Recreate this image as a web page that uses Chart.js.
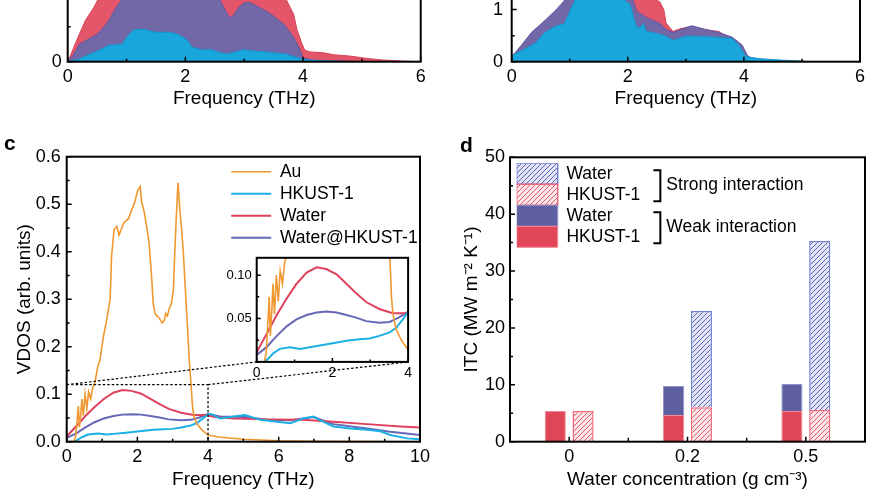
<!DOCTYPE html>
<html>
<head>
<meta charset="utf-8">
<title>VDOS and ITC</title>
<script src="https://cdn.jsdelivr.net/npm/chart.js@4.4.1/dist/chart.umd.min.js"></script>
<style>
  html, body { margin: 0; padding: 0; background: #fff; }
  body { width: 870px; height: 492px; overflow: hidden; position: relative; font-family: "Liberation Sans", Arial, sans-serif; }
  canvas { position: absolute; }
  .tag { position: absolute; font-weight: bold; font-size: 21px; line-height: 1; }
</style>
</head>
<body>
<canvas id="chartA" width="435" height="180" style="left:0;top:-60px"></canvas>
<canvas id="chartB" width="435" height="182" style="left:435px;top:-62px"></canvas>
<canvas id="chartC" width="440" height="362" style="left:0;top:130px"></canvas>
<canvas id="inset" width="200" height="140" style="left:215px;top:245px"></canvas>
<canvas id="chartD" width="430" height="362" style="left:440px;top:130px"></canvas>
<div class="tag" style="left:4px;top:132px">c</div>
<div class="tag" style="left:460px;top:134px">d</div>
<script>
// ---- panel a (top left, lower part only), arb. units
const aFreqWater = [0, 0.03, 0.13, 0.3, 0.44, 0.55, 0.7, 1.0, 1.5, 2.0, 2.5, 3.0, 3.5, 3.6, 3.72, 3.78, 3.84, 3.9, 3.98, 4.03, 4.12, 4.35, 4.52, 4.8, 5.09, 5.37, 5.66, 6.0];
const aWater = [0, 0.05, 0.26, 0.59, 0.77, 0.95, 1.1, 1.2, 1.25, 1.3, 1.3, 1.25, 1.15, 1.0, 0.88, 0.78, 0.68, 0.45, 0.26, 0.165, 0.14, 0.127, 0.1, 0.08, 0.047, 0.023, 0.01, 0];
const aFreqMix = [0, 0.1, 0.2, 0.35, 0.5, 0.6, 0.7, 0.82, 0.93, 1.2, 2.0, 2.5, 2.59, 2.67, 2.75, 2.82, 2.9, 3.0, 3.08, 3.2, 3.38, 3.5, 3.67, 3.84, 3.95, 4.0, 4.2, 5.0];
const aMix = [0, 0.1, 0.25, 0.32, 0.39, 0.48, 0.59, 0.77, 0.9, 1.05, 1.1, 1.0, 0.88, 0.75, 0.63, 0.66, 0.77, 0.84, 0.85, 0.8, 0.72, 0.65, 0.54, 0.35, 0.17, 0.05, 0.02, 0];
const aFreqHk = [0, 0.2, 0.35, 0.52, 0.7, 0.93, 1.0, 1.12, 1.3, 1.5, 1.74, 1.88, 2.03, 2.11, 2.26, 2.45, 2.55, 2.7, 2.85, 2.99, 3.2, 3.38, 3.7, 3.9, 4.0, 4.5, 5.0];
const aHk = [0, 0.04, 0.1, 0.16, 0.235, 0.25, 0.35, 0.455, 0.465, 0.42, 0.42, 0.39, 0.31, 0.21, 0.17, 0.17, 0.14, 0.11, 0.14, 0.17, 0.15, 0.14, 0.11, 0.06, 0.03, 0.007, 0];

// ---- panel b (top right, lower part only)
const bFreqWater = [0, 0.17, 0.4, 0.74, 1.0, 1.5, 2.0, 2.3, 2.55, 2.62, 2.66, 2.78, 2.89, 3.06, 3.3, 3.57, 3.68, 3.91, 4.03, 4.15, 4.4, 5.0];
const bWater = [0.12, 0.26, 0.53, 0.9, 1.3, 1.5, 1.45, 1.3, 1.15, 1.0, 0.74, 0.58, 0.63, 0.67, 0.62, 0.58, 0.49, 0.35, 0.12, 0.05, 0.02, 0];
const bFreqMix = [0, 0.17, 0.34, 0.57, 0.74, 0.85, 1.0, 1.5, 2.0, 2.1, 2.15, 2.32, 2.55, 2.66, 2.78, 3.0, 3.1, 3.34, 3.57, 3.8, 3.97, 4.06, 4.15, 4.4, 5.0];
const bMix = [0.09, 0.32, 0.56, 0.79, 0.97, 1.1, 1.3, 1.5, 1.4, 1.15, 0.97, 0.85, 0.735, 0.62, 0.56, 0.65, 0.69, 0.62, 0.56, 0.47, 0.32, 0.12, 0.05, 0.02, 0];
const bFreqHk = [0, 0.17, 0.4, 0.57, 0.74, 0.91, 1.02, 1.1, 1.3, 1.6, 1.85, 2.04, 2.1, 2.15, 2.21, 2.27, 2.32, 2.44, 2.66, 2.78, 3.0, 3.23, 3.51, 3.8, 3.91, 4.03, 4.25, 4.65, 5.0, 5.1];
const bHk = [0.12, 0.21, 0.35, 0.56, 0.67, 0.735, 1.02, 1.2, 1.35, 1.4, 1.25, 1.1, 0.85, 0.67, 0.65, 0.735, 0.58, 0.56, 0.49, 0.41, 0.49, 0.49, 0.47, 0.44, 0.32, 0.1, 0.06, 0.03, 0.012, 0];

// ---- panel c: VDOS
const cFreqAu = [0, 0.2, 0.25, 0.3, 0.33, 0.36, 0.4, 0.43, 0.47, 0.52, 0.57, 0.62, 0.68, 0.74, 0.8, 0.88, 0.94, 1.04, 1.13, 1.23, 1.27, 1.34, 1.42, 1.48, 1.61, 1.75, 1.84, 1.93, 2.0, 2.08, 2.12, 2.19, 2.27, 2.33, 2.4, 2.45, 2.5, 2.55, 2.62, 2.7, 2.76, 2.8, 2.85, 2.9, 2.96, 3.02, 3.06, 3.1, 3.15, 3.2, 3.25, 3.3, 3.36, 3.42, 3.47, 3.52, 3.56, 3.6, 3.68, 3.8, 3.9, 4.0, 4.3, 5.0, 6.0, 7.0, 10.0];
const cAu = [0, 0, 0.01, 0.05, 0.075, 0.03, 0.06, 0.09, 0.055, 0.1, 0.07, 0.105, 0.09, 0.115, 0.125, 0.158, 0.172, 0.221, 0.256, 0.3, 0.39, 0.446, 0.453, 0.435, 0.46, 0.47, 0.488, 0.505, 0.527, 0.537, 0.505, 0.485, 0.45, 0.42, 0.35, 0.29, 0.27, 0.265, 0.26, 0.25, 0.255, 0.27, 0.265, 0.28, 0.29, 0.32, 0.4, 0.47, 0.545, 0.49, 0.45, 0.4, 0.32, 0.24, 0.17, 0.12, 0.075, 0.055, 0.038, 0.027, 0.02, 0.014, 0.01, 0.005, 0.002, 0.001, 0];
const cFreqHk = [0, 0.2, 0.26, 0.44, 0.61, 0.88, 1.14, 1.4, 1.67, 1.93, 2.19, 2.46, 2.72, 2.98, 3.24, 3.51, 3.68, 3.86, 4.0, 4.1, 4.34, 4.72, 5.05, 5.48, 5.95, 6.33, 6.7, 6.99, 7.18, 7.55, 8.03, 8.5, 8.88, 9.16, 9.63, 10];
const cHk = [0, 0, 0.002, 0.010, 0.015, 0.017, 0.015, 0.017, 0.019, 0.021, 0.023, 0.025, 0.026, 0.027, 0.030, 0.034, 0.039, 0.049, 0.058, 0.058, 0.049, 0.053, 0.056, 0.046, 0.042, 0.039, 0.049, 0.053, 0.045, 0.032, 0.028, 0.025, 0.022, 0.014, 0.007, 0.005];
const cFreqWater = [0, 0.26, 0.53, 0.79, 1.05, 1.32, 1.58, 1.84, 2.11, 2.37, 2.63, 2.89, 3.24, 3.59, 3.95, 4.2, 4.72, 5.67, 6.67, 7.55, 8.5, 9.45, 10];
const cWater = [0.011, 0.032, 0.054, 0.073, 0.090, 0.103, 0.109, 0.107, 0.101, 0.090, 0.079, 0.069, 0.061, 0.056, 0.056, 0.052, 0.049, 0.047, 0.046, 0.042, 0.037, 0.032, 0.030];
const cFreqMix = [0, 0.26, 0.53, 0.79, 1.05, 1.32, 1.58, 1.84, 2.11, 2.37, 2.63, 2.89, 3.24, 3.51, 3.75, 4.0, 4.34, 5.05, 5.67, 6.33, 6.99, 7.55, 8.5, 9.16, 10];
const cMix = [0.008, 0.017, 0.030, 0.041, 0.049, 0.054, 0.057, 0.058, 0.057, 0.054, 0.051, 0.047, 0.045, 0.046, 0.051, 0.058, 0.053, 0.052, 0.046, 0.045, 0.052, 0.037, 0.028, 0.021, 0.014];

// ---- panel d: ITC (MW m-2 K-1), stacked contributions
const concLabels = ['0', '0.2', '0.5'];
const weakHkust = [5.4, 4.7, 5.4];
const weakWater = [null, 5.1, 4.75];
const strongHkust = [5.4, 6.05, 5.57];
const strongWater = [null, 16.95, 29.73];

const FONT = '"Liberation Sans", Arial, Helvetica, sans-serif';
Chart.defaults.font.family = FONT;
Chart.defaults.color = '#000';

const pts = (xs, ys) => xs.map((x, i) => ({x, y: ys[i]}));
const marks = (from, to, step, len) => {
  const out = [];
  for (let v = from; v <= to + 1e-9; v += step) out.push([+v.toFixed(4), len]);
  return out;
};

// box round the plot area, ticks pointing inwards
function frame(xTicks, yTicks) {
  return {
    id: 'frame',
    afterDatasetsDraw(chart) {
      const {ctx, chartArea: a, scales} = chart;
      ctx.save();
      ctx.strokeStyle = '#000';
      ctx.lineWidth = 1.5;
      ctx.beginPath();
      xTicks.forEach(([v, len]) => {
        const p = scales.x.getPixelForValue(v);
        ctx.moveTo(p, a.bottom); ctx.lineTo(p, a.bottom - len);
      });
      yTicks.forEach(([v, len]) => {
        const p = scales.y.getPixelForValue(v);
        ctx.moveTo(a.left, p); ctx.lineTo(a.left + len, p);
      });
      ctx.stroke();
      ctx.lineWidth = 2;
      ctx.strokeRect(a.left, a.top, a.right - a.left, a.bottom - a.top);
      ctx.restore();
    }
  };
}

// move the legend inside the plot area
const placeLegend = (dx, dy) => ({
  id: 'placeLegend',
  afterLayout(chart) {
    const lg = chart.legend, a = chart.chartArea;
    lg.left = a.left + dx; lg.top = a.top + dy;
    lg.right = lg.left + lg.width; lg.bottom = a.bottom;
  }
});

function axis(o) {
  const ax = {
    type: o.type || 'linear',
    grid: {display: false, drawTicks: false},
    border: {display: false},
    ticks: {padding: o.pad, font: {size: o.fs || 18}, maxRotation: 0, autoSkip: false, includeBounds: false},
    title: o.title ? {display: true, text: o.title, font: {size: 19}, padding: o.titlePad} : {display: false},
    afterFit: s => { if (s.isHorizontal()) s.height = o.size; else s.width = o.size; }
  };
  if (o.min !== undefined) { ax.min = o.min; ax.max = o.max; ax.ticks.stepSize = o.step; }
  if (o.fmt) ax.ticks.callback = o.fmt;
  return ax;
}

const RED = '#e3566a', PURPLE = '#7268a8', BLUE = '#19a6dc';
const area = (label, xs, ys, fill, line) => ({
  label, data: pts(xs, ys), backgroundColor: fill, borderColor: line,
  borderWidth: 1, fill: 'origin', pointRadius: 0, tension: 0
});

function dosChart(id, sets, yMax, yW, yPad, pad) {
  return new Chart(document.getElementById(id), {
    type: 'line',
    data: {datasets: sets},
    options: {
      responsive: false, animation: false, events: [],
      layout: {padding: pad},
      plugins: {legend: {display: false}, tooltip: {enabled: false}},
      scales: {
        x: axis({min: 0, max: 6, step: 2, pad: 5, size: 58.3, title: 'Frequency (THz)', titlePad: {top: 0, bottom: 10.3}}),
        y: axis({min: 0, max: yMax, step: 1, pad: yPad, size: yW})
      }
    },
    plugins: [frame(marks(0, 6, 2, 5).concat(marks(1, 5, 2, 3)), marks(0, yMax, 1, 5).concat(marks(0.5, yMax, 1, 3)))]
  });
}

dosChart('chartA', [
  area('HKUST-1', aFreqHk, aHk, BLUE, '#1597cc'),
  area('Water@HKUST-1', aFreqMix, aMix, PURPLE, '#5f58a4'),
  area('Water', aFreqWater, aWater, RED, '#d84459')
], 1.5, 67.7, 6, {top: 15.2, right: 14.3, left: 0, bottom: 0});

dosChart('chartB', [
  area('HKUST-1', bFreqHk, bHk, BLUE, '#1597cc'),
  area('Water@HKUST-1', bFreqMix, bMix, PURPLE, '#5f58a4'),
  area('Water', bFreqWater, bWater, RED, '#d84459')
], 2, 76.7, 8.7, {top: 10.3, right: 5.7, left: 0, bottom: 0});

// ---- panel c
const cSets = () => [
  {label: 'Au', data: pts(cFreqAu, cAu), borderColor: '#f0982f', backgroundColor: '#f0982f', borderWidth: 1.6},
  {label: 'HKUST-1', data: pts(cFreqHk, cHk), borderColor: '#1bb0e3', backgroundColor: '#1bb0e3', borderWidth: 2},
  {label: 'Water', data: pts(cFreqWater, cWater), borderColor: '#e0415c', backgroundColor: '#e0415c', borderWidth: 2},
  {label: 'Water@HKUST-1', data: pts(cFreqMix, cMix), borderColor: '#6667b6', backgroundColor: '#6667b6', borderWidth: 2}
].map(d => Object.assign(d, {pointRadius: 0, tension: 0, fill: false}));

let insetChart = null;

// dashed zoom box plus the two lines to the inset
const zoomBox = {
  id: 'zoomBox',
  afterDatasetsDraw(chart) {
    if (!insetChart) return;
    const {ctx, scales: {x, y}} = chart;
    const ix = insetChart.scales.x, iy = insetChart.scales.y, ia = insetChart.chartArea;
    const L = x.getPixelForValue(ix.min), R = x.getPixelForValue(ix.max);
    const T = y.getPixelForValue(iy.max), B = y.getPixelForValue(iy.min);
    const dx = insetChart.canvas.offsetLeft - chart.canvas.offsetLeft;
    const dy = insetChart.canvas.offsetTop - chart.canvas.offsetTop;
    ctx.save();
    ctx.setLineDash([2.5, 2]);
    ctx.lineWidth = 1.2;
    ctx.strokeStyle = '#000';
    ctx.beginPath();
    ctx.moveTo(L, T); ctx.lineTo(R, T); ctx.lineTo(R, B);
    ctx.moveTo(L, T); ctx.lineTo(ia.left + dx, ia.bottom + dy);
    ctx.moveTo(R, T); ctx.lineTo(ia.right + dx, ia.bottom + dy);
    ctx.stroke();
    ctx.restore();
  }
};

insetChart = new Chart(document.getElementById('inset'), {
  type: 'line',
  data: {datasets: cSets()},
  options: {
    responsive: false, animation: false, events: [],
    layout: {padding: {top: 9.9, right: 6, left: 0, bottom: 0}},
    plugins: {legend: {display: false}, tooltip: {enabled: false}},
    scales: {
      x: axis({min: 0, max: 4, step: 2, pad: 3, fs: 14, size: 23.1}),
      y: axis({min: 0, max: 0.12, step: 0.05, pad: 5, fs: 13, size: 41.7, fmt: v => v === 0 ? '' : v.toFixed(2)})
    }
  },
  plugins: [frame(marks(0, 4, 2, 4).concat(marks(1, 3, 2, 2.5)), marks(0, 0.1, 0.05, 4).concat(marks(0.025, 0.1, 0.05, 2.5)))]
});

new Chart(document.getElementById('chartC'), {
  type: 'line',
  data: {datasets: cSets()},
  options: {
    responsive: false, animation: false, events: [],
    layout: {padding: {top: 26.7, right: 20, left: 0, bottom: 0}},
    plugins: {
      tooltip: {enabled: false},
      legend: {
        position: 'chartArea', align: 'start',
        labels: {usePointStyle: true, pointStyle: 'line', pointStyleWidth: 40, padding: 4.5, font: {size: 17.5}}
      }
    },
    scales: {
      x: axis({min: 0, max: 10, step: 2, pad: 5, size: 50.3, title: 'Frequency (THz)', titlePad: {top: 0, bottom: 0.6}}),
      y: axis({min: 0, max: 0.6, step: 0.1, pad: 6, size: 66.7, title: 'VDOS (arb. units)', titlePad: {top: 13.6, bottom: 0}, fmt: v => v.toFixed(1)})
    }
  },
  plugins: [frame(marks(0, 10, 2, 5).concat(marks(1, 9, 2, 3)), marks(0, 0.6, 0.1, 5).concat(marks(0.05, 0.6, 0.1, 3))), zoomBox, placeLegend(160, 1.75)]
});

// ---- panel d
const dCtx = document.getElementById('chartD').getContext('2d');
function hatch(bg, fg) {
  const c = document.createElement('canvas');
  c.width = c.height = 5;
  const g = c.getContext('2d');
  g.fillStyle = bg; g.fillRect(0, 0, 5, 5);
  g.strokeStyle = fg; g.lineWidth = 1;
  g.beginPath();
  g.moveTo(0, 5); g.lineTo(5, 0);
  g.moveTo(-1, 1); g.lineTo(1, -1);
  g.moveTo(4, 6); g.lineTo(6, 4);
  g.stroke();
  return dCtx.createPattern(c, 'repeat');
}

const brackets = {
  id: 'brackets',
  afterDraw(chart) {
    const lg = chart.legend, ctx = chart.ctx;
    const row = 21;
    const x = lg.left + lg.width + 10;
    ctx.save();
    ctx.strokeStyle = '#000';
    ctx.lineWidth = 2;
    ctx.fillStyle = '#000';
    ctx.font = '17.5px ' + FONT;
    ctx.textBaseline = 'middle';
    [['Strong interaction', 0], ['Weak interaction', 2]].forEach(([text, r]) => {
      const y1 = lg.top + r * row + 7, y2 = lg.top + (r + 2) * row - 4;
      ctx.beginPath();
      ctx.moveTo(x - 7, y1); ctx.lineTo(x, y1); ctx.lineTo(x, y2); ctx.lineTo(x - 7, y2);
      ctx.stroke();
      ctx.fillText(text, x + 6, lg.top + (r + 1) * row + 1);
    });
    ctx.restore();
  }
};

new Chart(dCtx, {
  type: 'bar',
  data: {
    labels: concLabels,
    datasets: [
      {label: 'HKUST-1', data: weakHkust, stack: 'weak', backgroundColor: '#e04558', borderColor: '#f08a98', borderWidth: 1},
      {label: 'Water', data: weakWater, stack: 'weak', backgroundColor: '#5d5f9f', borderColor: '#8f92cc', borderWidth: 1},
      {label: 'HKUST-1', data: strongHkust, stack: 'strong', backgroundColor: hatch('#fde6e9', '#e4566a'), borderColor: '#ec6a7c', borderWidth: 1.5},
      {label: 'Water', data: strongWater, stack: 'strong', backgroundColor: hatch('#e3e5f6', '#5a63b4'), borderColor: '#7282d2', borderWidth: 1.5}
    ]
  },
  options: {
    responsive: false, animation: false, events: [],
    datasets: {bar: {categoryPercentage: 0.47, barPercentage: 0.76}},
    layout: {padding: {top: 27.3, right: 5, left: 0, bottom: 0}},
    plugins: {
      tooltip: {enabled: false},
      legend: {
        position: 'chartArea', align: 'start',
        labels: {boxWidth: 41, boxHeight: 21, padding: 0, font: {size: 17.5}, sort: (a, b) => b.datasetIndex - a.datasetIndex}
      }
    },
    scales: {
      x: Object.assign(axis({type: 'category', pad: 5, size: 50.3, title: 'Water concentration (g cm⁻³)', titlePad: {top: 0, bottom: 0.6}}), {stacked: true}),
      y: Object.assign(axis({min: 0, max: 50, step: 10, pad: 5, size: 70, title: 'ITC (MW m⁻² K⁻¹)', titlePad: {top: 20.6, bottom: 0}}), {stacked: true})
    }
  },
  plugins: [frame([[0, 5], [1, 5], [2, 5], [0.5, 4], [1.5, 4]], marks(0, 50, 10, 5).concat(marks(5, 45, 10, 3))), placeLegend(6.7, 6), brackets]
});
</script>
</body>
</html>
